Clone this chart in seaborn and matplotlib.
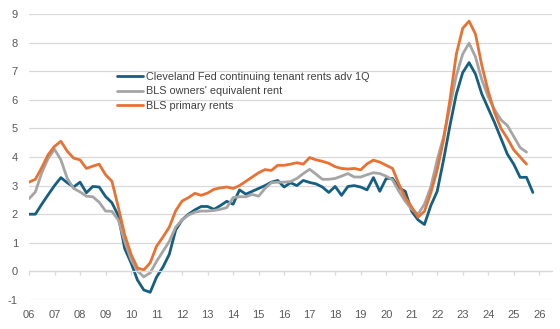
import matplotlib
matplotlib.use("Agg")
import matplotlib.pyplot as plt
import pandas as pd
import seaborn as sns

start_year = 2006  # quarterly observations from 2006Q1

cleveland = [2.0, 2.0, 2.35, 2.68, 3.0, 3.28, 3.1, 2.95, 3.12, 2.75,
             2.97, 2.95, 2.62, 2.4, 1.95, 0.8, 0.3, -0.3, -0.65, -0.73,
             -0.2, 0.15, 0.6, 1.45, 1.8, 2.0, 2.15, 2.27, 2.27, 2.17,
             2.3, 2.45, 2.35, 2.85, 2.7, 2.8, 2.9, 3.0, 3.12, 3.18,
             2.95, 3.1, 3.0, 3.18, 3.11, 3.06, 2.95, 2.76, 2.97, 2.66,
             2.97, 3.0, 2.95, 2.85, 3.28, 2.8, 3.25, 3.25, 2.92, 2.8,
             2.1, 1.8, 1.64, 2.3, 2.8, 3.9, 5.1, 6.2, 6.95, 7.3,
             6.9, 6.2, 5.7, 5.2, 4.65, 4.1, 3.75, 3.29, 3.29, 2.76]

oer = [2.54, 2.78, 3.45, 3.95, 4.27, 3.9, 3.25, 2.9, 2.78, 2.63,
       2.61, 2.42, 2.11, 2.1, 1.8, 1.05, 0.42, 0.02, -0.19, -0.05,
       0.35, 0.7, 1.05, 1.55, 1.8, 1.97, 2.07, 2.11, 2.11, 2.13,
       2.17, 2.23, 2.58, 2.61, 2.61, 2.69, 2.63, 2.9, 3.1, 3.12,
       3.12, 3.14, 3.25, 3.42, 3.57, 3.4, 3.22, 3.22, 3.25, 3.33,
       3.42, 3.3, 3.3, 3.38, 3.45, 3.42, 3.33, 3.2, 2.8, 2.45,
       2.17, 2.0, 2.35, 2.95, 3.9, 4.7, 5.75, 6.85, 7.6, 7.98,
       7.5, 6.7, 6.1, 5.65, 5.3, 5.1, 4.72, 4.33, 4.17]

primary = [3.12, 3.22, 3.63, 4.08, 4.37, 4.55, 4.2, 3.96, 3.9, 3.6,
           3.68, 3.75, 3.38, 3.15, 2.25, 1.28, 0.6, 0.12, 0.05, 0.3,
           0.88, 1.2, 1.55, 2.12, 2.46, 2.58, 2.73, 2.66, 2.74, 2.87,
           2.92, 2.95, 2.9, 3.0, 3.15, 3.3, 3.45, 3.56, 3.53, 3.71,
           3.71, 3.75, 3.8, 3.75, 3.98, 3.9, 3.85, 3.78, 3.66, 3.6,
           3.58, 3.6, 3.55, 3.76, 3.89, 3.82, 3.71, 3.6, 3.05, 2.58,
           2.25, 1.9, 2.1, 2.75, 3.55, 4.6, 6.0, 7.6, 8.5, 8.75,
           8.3, 7.2, 6.3, 5.55, 5.0, 4.65, 4.25, 4.0, 3.75]

series_names = ["Cleveland Fed continuing tenant rents adv 1Q",
                "BLS owners' equivalent rent",
                "BLS primary rents"]
tick_years = list(range(2006, 2027))
tick_labels = [f"{y % 100:02d}" for y in tick_years]
y_ticks = list(range(-1, 10))

rows = []
for name, vals in zip(series_names, [cleveland, oer, primary]):
    for i, v in enumerate(vals):
        rows.append({"date": start_year + i / 4, "value": v, "series": name})
df = pd.DataFrame(rows)

sns.set_theme(style="white")
plt.rcParams["font.family"] = ["Liberation Sans", "DejaVu Sans"]

fig = plt.figure(figsize=(5.6, 3.29), dpi=100)
ax = fig.add_axes([29 / 560, 1 - 300 / 329, 523 / 560, 286 / 329])

palette = {series_names[0]: "#156082", series_names[1]: "#A5A5A5",
           series_names[2]: "#E97132"}
sns.lineplot(data=df, x="date", y="value", hue="series", hue_order=series_names,
             palette=palette, linewidth=2.0, ax=ax)

ax.set_xlim(2006, 2026.5)
ax.set_ylim(-1, 9)
ax.set_yticks(y_ticks)
ax.set_yticklabels([str(t) for t in y_ticks])
ax.set_xticks(tick_years)
ax.set_xticklabels(tick_labels)
ax.set_xlabel("")
ax.set_ylabel("")

ax.grid(axis="y", color="#D9D9D9", linewidth=0.9)
ax.grid(axis="x", visible=False)
ax.set_axisbelow(True)
for s in ["left", "top", "right"]:
    ax.spines[s].set_visible(False)
ax.spines["bottom"].set_position(("data", 0))
ax.spines["bottom"].set_color("#D9D9D9")
ax.spines["bottom"].set_linewidth(0.9)

ax.tick_params(axis="x", length=3, color="#D9D9D9", width=0.9, pad=25,
               labelsize=8, labelcolor="#595959", bottom=True, direction="out")
ax.tick_params(axis="y", length=0, pad=8, labelsize=8, labelcolor="#595959")

leg = ax.legend(loc="upper left", bbox_to_anchor=(0.168, 0.797), frameon=False,
                borderpad=0, borderaxespad=0, handlelength=2.4, handletextpad=0.3,
                labelspacing=0.4, prop={"family": ["Liberation Sans"], "size": 7.8})
for t in leg.get_texts():
    t.set_color("#404040")

fig.savefig("out.png", dpi=100)
